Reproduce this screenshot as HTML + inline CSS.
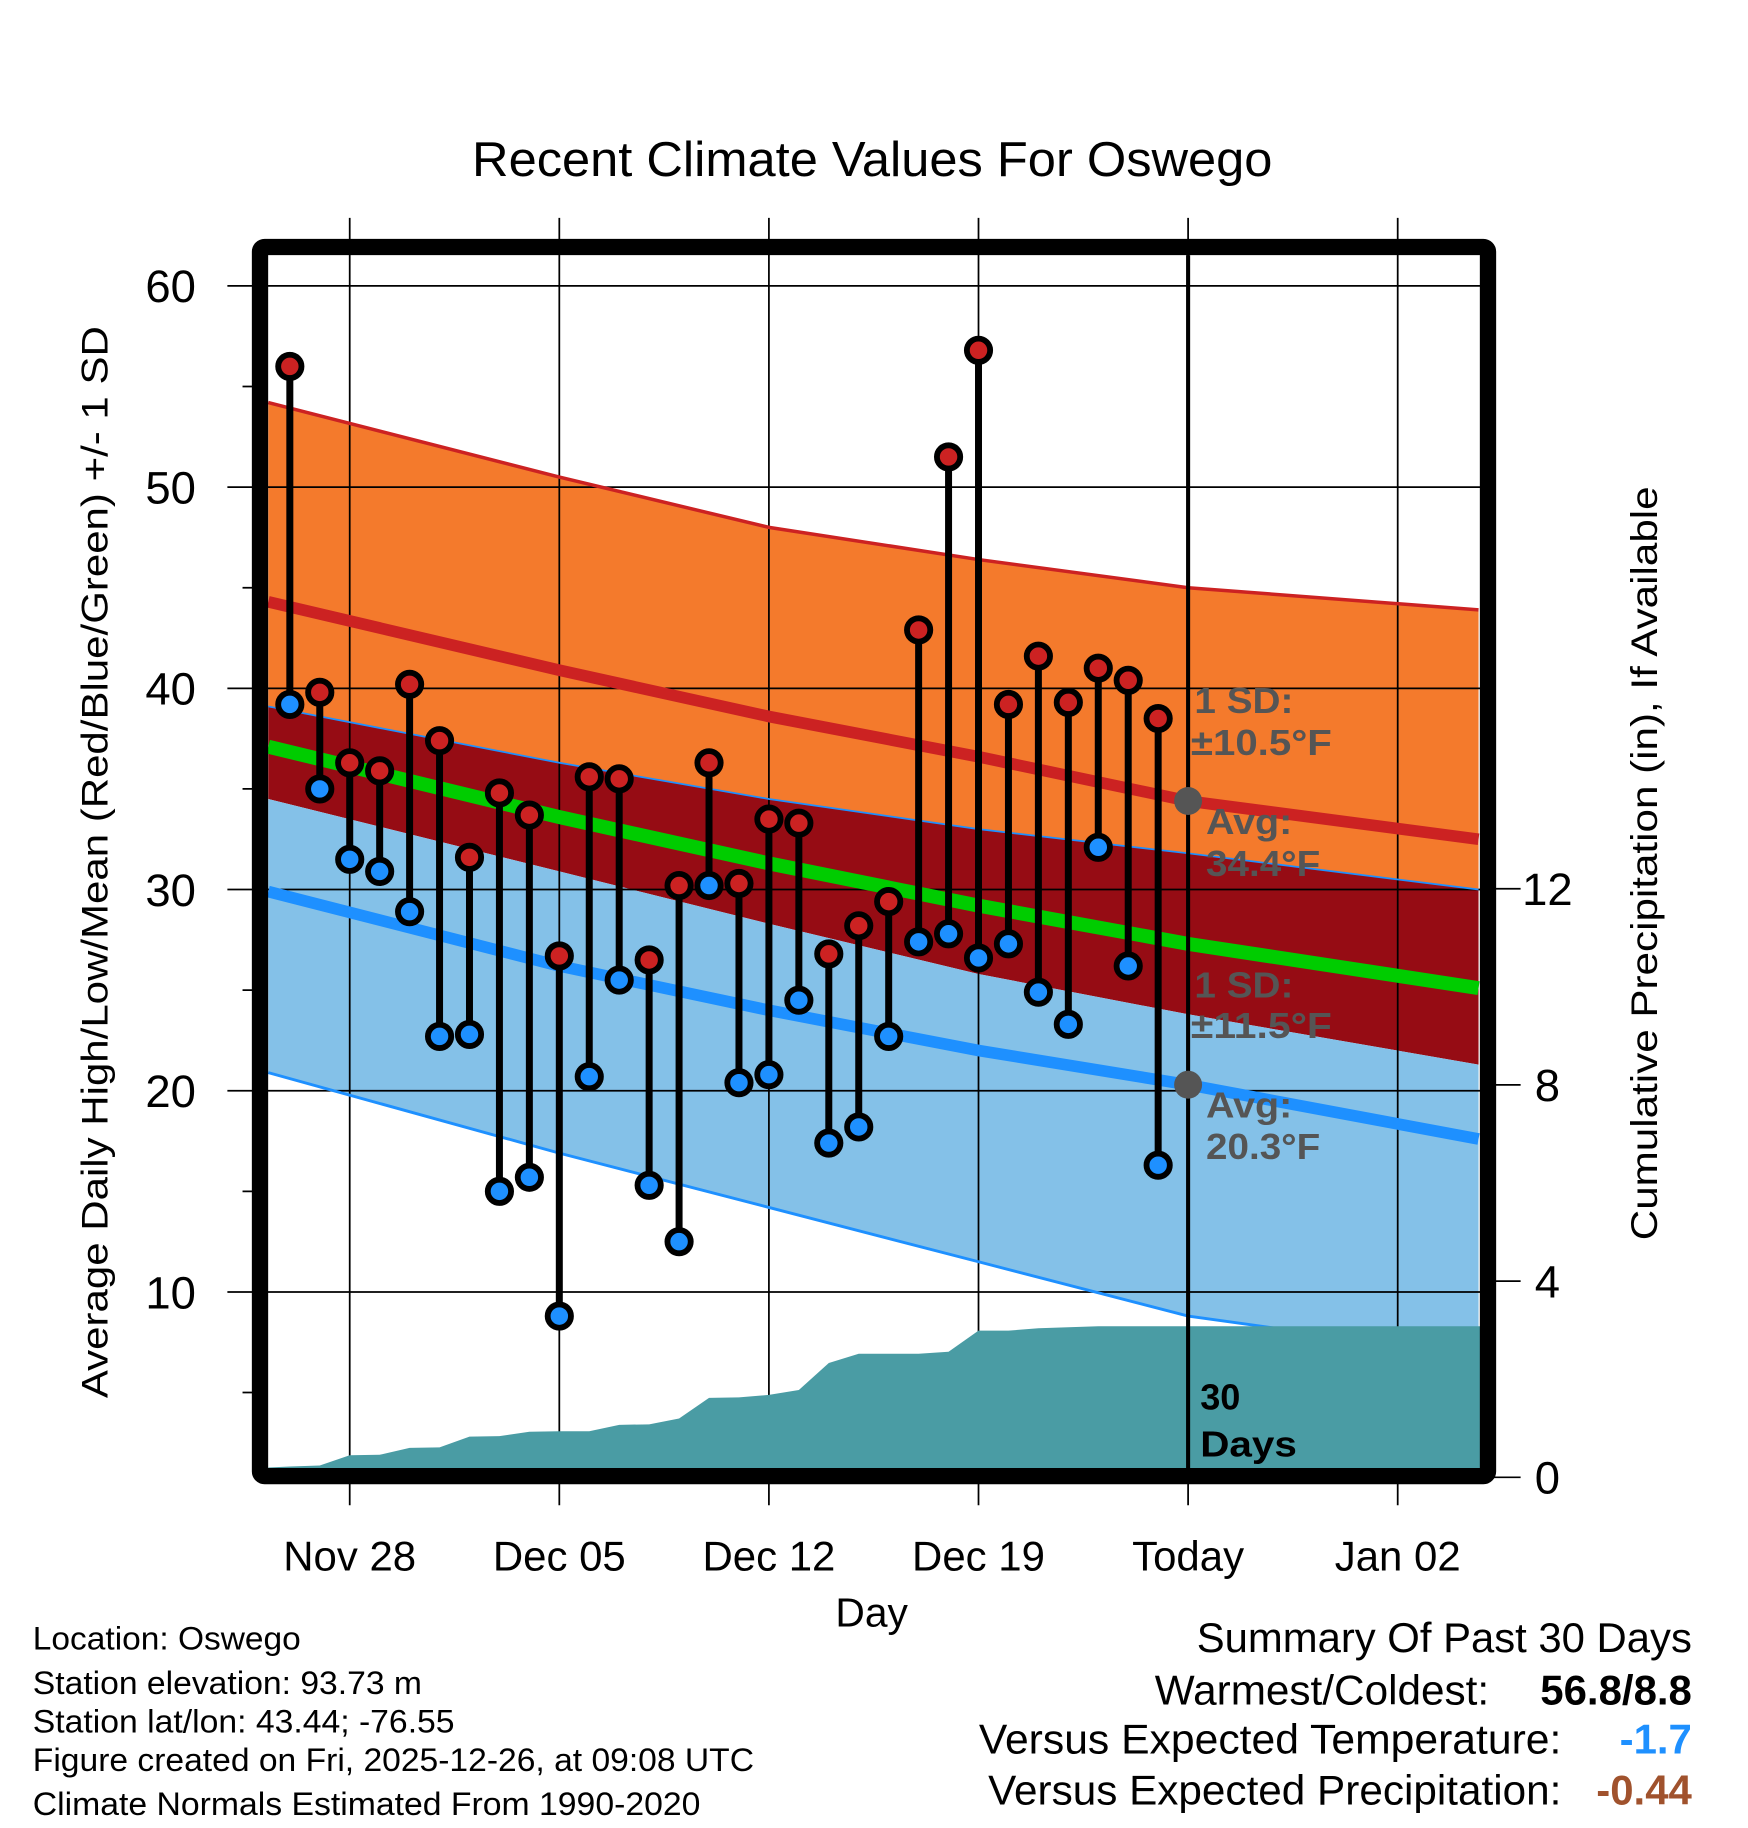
<!DOCTYPE html>
<html><head><meta charset="utf-8"><style>html,body{margin:0;padding:0;background:#fff}svg{display:block}</style></head>
<body>
<svg id="chart" width="1748" height="1828" viewBox="0 0 1500 1569" xmlns="http://www.w3.org/2000/svg" font-family="Liberation Sans, sans-serif">
<defs><clipPath id="plotclip"><rect x="223" y="212" width="1054" height="1055"/></clipPath></defs>
<text x="405" y="151" font-size="42" textLength="687" lengthAdjust="spacingAndGlyphs">Recent Climate Values For Oswego</text>
<g id="bands" clip-path="url(#plotclip)"></g>
<g id="grid"></g>
<g id="lowline" clip-path="url(#plotclip)"></g>
<g id="precip" clip-path="url(#plotclip)"></g>
<g id="lines" clip-path="url(#plotclip)"></g>
<g id="marks"></g>
<rect x="223" y="212" width="1054" height="1055" fill="none" stroke="#000" stroke-width="14" rx="4"/>
<g id="axes"></g>
<g font-size="31" font-weight="bold" fill="#555">
<text x="1025" y="612" textLength="85" lengthAdjust="spacingAndGlyphs">1 SD:</text><text x="1022" y="648" textLength="121" lengthAdjust="spacingAndGlyphs">±10.5°F</text>
<text x="1035" y="716" textLength="74" lengthAdjust="spacingAndGlyphs">Avg:</text><text x="1035" y="752" textLength="98" lengthAdjust="spacingAndGlyphs">34.4°F</text>
<text x="1025" y="856" textLength="85" lengthAdjust="spacingAndGlyphs">1 SD:</text><text x="1022" y="891" textLength="121" lengthAdjust="spacingAndGlyphs">±11.5°F</text>
<text x="1035" y="959" textLength="74" lengthAdjust="spacingAndGlyphs">Avg:</text><text x="1035" y="995" textLength="98" lengthAdjust="spacingAndGlyphs">20.3°F</text>
</g>
<text x="1030" y="1210" font-size="31" font-weight="bold">30</text>
<text x="1030" y="1250" font-size="31" font-weight="bold" textLength="83" lengthAdjust="spacingAndGlyphs">Days</text>
<text transform="translate(92,740) rotate(-90)" font-size="32" text-anchor="middle" textLength="920" lengthAdjust="spacingAndGlyphs">Average Daily High/Low/Mean (Red/Blue/Green) +/- 1 SD</text>
<text transform="translate(1422,741) rotate(-90)" font-size="32" text-anchor="middle" textLength="647" lengthAdjust="spacingAndGlyphs">Cumulative Precipitation (in), If Available</text>
<text x="748" y="1396" font-size="35" text-anchor="middle">Day</text>
<g font-size="28">
<text x="28" y="1416" textLength="230" lengthAdjust="spacingAndGlyphs">Location: Oswego</text>
<text x="28" y="1454" textLength="334" lengthAdjust="spacingAndGlyphs">Station elevation: 93.73 m</text>
<text x="28" y="1487" textLength="362" lengthAdjust="spacingAndGlyphs">Station lat/lon: 43.44; -76.55</text>
<text x="28" y="1520" textLength="619" lengthAdjust="spacingAndGlyphs">Figure created on Fri, 2025-12-26, at 09:08 UTC</text>
<text x="28" y="1558" textLength="573" lengthAdjust="spacingAndGlyphs">Climate Normals Estimated From 1990-2020</text>
</g>
<g font-size="36">
<text x="1027" y="1418" textLength="425" lengthAdjust="spacingAndGlyphs">Summary Of Past 30 Days</text>
<text x="991" y="1463" textLength="287" lengthAdjust="spacingAndGlyphs">Warmest/Coldest:</text>
<text x="1452" y="1463" text-anchor="end" font-weight="bold">56.8/8.8</text>
<text x="840" y="1505" textLength="500" lengthAdjust="spacingAndGlyphs">Versus Expected Temperature:</text>
<text x="1452" y="1505" text-anchor="end" font-weight="bold" fill="#1e90ff">-1.7</text>
<text x="848" y="1549" textLength="492" lengthAdjust="spacingAndGlyphs">Versus Expected Precipitation:</text>
<text x="1452" y="1549" text-anchor="end" font-weight="bold" fill="#a0522d">-0.44</text>
</g>
</svg>
<script>
const highs=[56,39.8,36.3,35.9,40.2,37.4,31.6,34.8,33.7,26.7,35.6,35.5,26.5,30.2,36.3,30.3,33.5,33.3,26.8,28.2,29.4,42.9,51.5,56.8,39.2,41.6,39.3,41,40.4,38.5];
const lows=[39.2,35,31.5,30.9,28.9,22.7,22.8,15,15.7,8.8,20.7,25.5,15.3,12.5,30.2,20.4,20.8,24.5,17.4,18.2,22.7,27.4,27.8,26.6,27.3,24.9,23.3,32.1,26.2,16.3];
const precipCum=[0.22,0.24,0.45,0.46,0.6,0.61,0.83,0.84,0.93,0.94,0.94,1.07,1.08,1.2,1.62,1.63,1.68,1.78,2.33,2.52,2.52,2.52,2.56,2.99,2.99,3.04,3.06,3.08,3.08,3.08];
const normDays=[-0.72,9,16,23,30,39.7];
const highPlusSD=[54.2,50.5,48,46.4,45,43.9];
const normHigh=[44.3,40.9,38.6,36.6,34.4,32.5];
const highMinusSD=[39.1,36.3,34.5,33.0,31.8,30.0];
const normMean=[37.1,33.6,31.3,29.2,27.3,25.1];
const lowPlusSD=[34.5,30.9,28.3,25.8,23.8,21.3];
const normLow=[29.9,26.2,24.0,22.0,20.3,17.6];
const lowMinusSD=[20.9,16.9,14.2,11.5,8.8,6.8];
const yTicks=[10,20,30,40,50,60];
const y2Ticks=[0,4,8,12];
const xTickDays=[2,9,16,23,30,37];
const xTickLabels=["Nov 28","Dec 05","Dec 12","Dec 19","Today","Jan 02"];
const todayDay=30;
const annotAvg=[34.4,20.3];

const NS="http://www.w3.org/2000/svg";
const X=d=>248.6+25.7*d;
const Y=v=>1281.6-17.27*v;
const YP=p=>1268-42.1*p;
function mk(tag,attrs,parent){const e=document.createElementNS(NS,tag);for(const k in attrs)e.setAttribute(k,attrs[k]);parent.appendChild(e);return e;}
const bands=document.getElementById('bands'),grid=document.getElementById('grid'),precip=document.getElementById('precip'),lines=document.getElementById('lines'),marks=document.getElementById('marks'),axes=document.getElementById('axes'),lowline=document.getElementById('lowline');
function pts(arr){return normDays.map((d,i)=>X(d)+','+Y(arr[i])).join(' ');}
function band(top,bot,fill,name){const p=normDays.map((d,i)=>X(d)+','+Y(top[i])).concat(normDays.slice().reverse().map((d,j)=>{const i=normDays.length-1-j;return X(d)+','+Y(bot[i]);}));const e=mk('polygon',{points:p.join(' '),fill:fill},bands);

}
band(highPlusSD,highMinusSD,'#f47a2c','high-sd-band');
band(highMinusSD,lowPlusSD,'#960c14','overlap-band');
band(lowPlusSD,lowMinusSD,'#84c1e8','low-sd-band');
yTicks.forEach(v=>{const l=mk('line',{x1:195,x2:1277,y1:Y(v),y2:Y(v),stroke:'#000','stroke-width':1.5},grid);


const t=mk('text',{x:168,y:Y(v)+14,'font-size':39,'text-anchor':'end'},axes);t.textContent=v;

});
for(let v=5;v<=55;v+=10){mk('line',{x1:208,x2:223,y1:Y(v),y2:Y(v),stroke:'#000','stroke-width':1.5},grid);}
xTickDays.forEach((d,i)=>{const l=mk('line',{x1:X(d),x2:X(d),y1:187,y2:1292,stroke:'#000','stroke-width':1.5},grid);


const t=mk('text',{x:X(d),y:1348,'font-size':36,'text-anchor':'middle'},axes);t.textContent=xTickLabels[i];

});
y2Ticks.forEach(p=>{mk('line',{x1:1277,x2:1305,y1:YP(p),y2:YP(p),stroke:'#000','stroke-width':1.5},axes);
const t=mk('text',{x:1328,y:YP(p)+14,'font-size':39,'text-anchor':'middle'},axes);t.textContent=p;

});
let pp=[X(-0.72)+','+YP(0.2),X(0)+','+YP(precipCum[0])];precipCum.forEach((p,i)=>pp.push(X(i)+','+YP(p)));pp.push(X(39.8)+','+YP(precipCum[precipCum.length-1]));pp.push(X(39.8)+','+YP(0));pp.push(X(-0.72)+','+YP(0));
const pa=mk('polygon',{points:pp.join(' '),fill:'#4a9ca4'},precip);


function ln(arr,c,w,name,parent){const e=mk('polyline',{points:pts(arr),fill:'none',stroke:c,'stroke-width':w},parent||lines);

}
ln(lowMinusSD,'#1e90ff',2.5,'low-minus-sd-line',lowline);
ln(highPlusSD,'#cc2222',3,'high-plus-sd-line');
ln(normHigh,'#cc2222',10,'normal-high-line');
ln(highMinusSD,'#1e90ff',1.5,'high-minus-sd-line');
ln(normMean,'#00cc00',12,'normal-mean-line');
ln(normLow,'#1e90ff',10,'normal-low-line');
const tl=mk('line',{x1:X(todayDay),x2:X(todayDay),y1:219,y2:1262,stroke:'#000','stroke-width':3.5},lines);


annotAvg.forEach(v=>{const c=mk('circle',{cx:X(todayDay),cy:Y(v),r:12,fill:'#555'},lines);

});
highs.forEach((h,i)=>{const s=mk('line',{x1:X(i),x2:X(i),y1:Y(h),y2:Y(lows[i]),stroke:'#000','stroke-width':6},marks);

});
highs.forEach((h,i)=>{const c=mk('circle',{cx:X(i),cy:Y(h),r:10,fill:'#cc2222',stroke:'#000','stroke-width':5},marks);


const c2=mk('circle',{cx:X(i),cy:Y(lows[i]),r:10,fill:'#1e90ff',stroke:'#000','stroke-width':5},marks);

});
</script>
</body></html>
